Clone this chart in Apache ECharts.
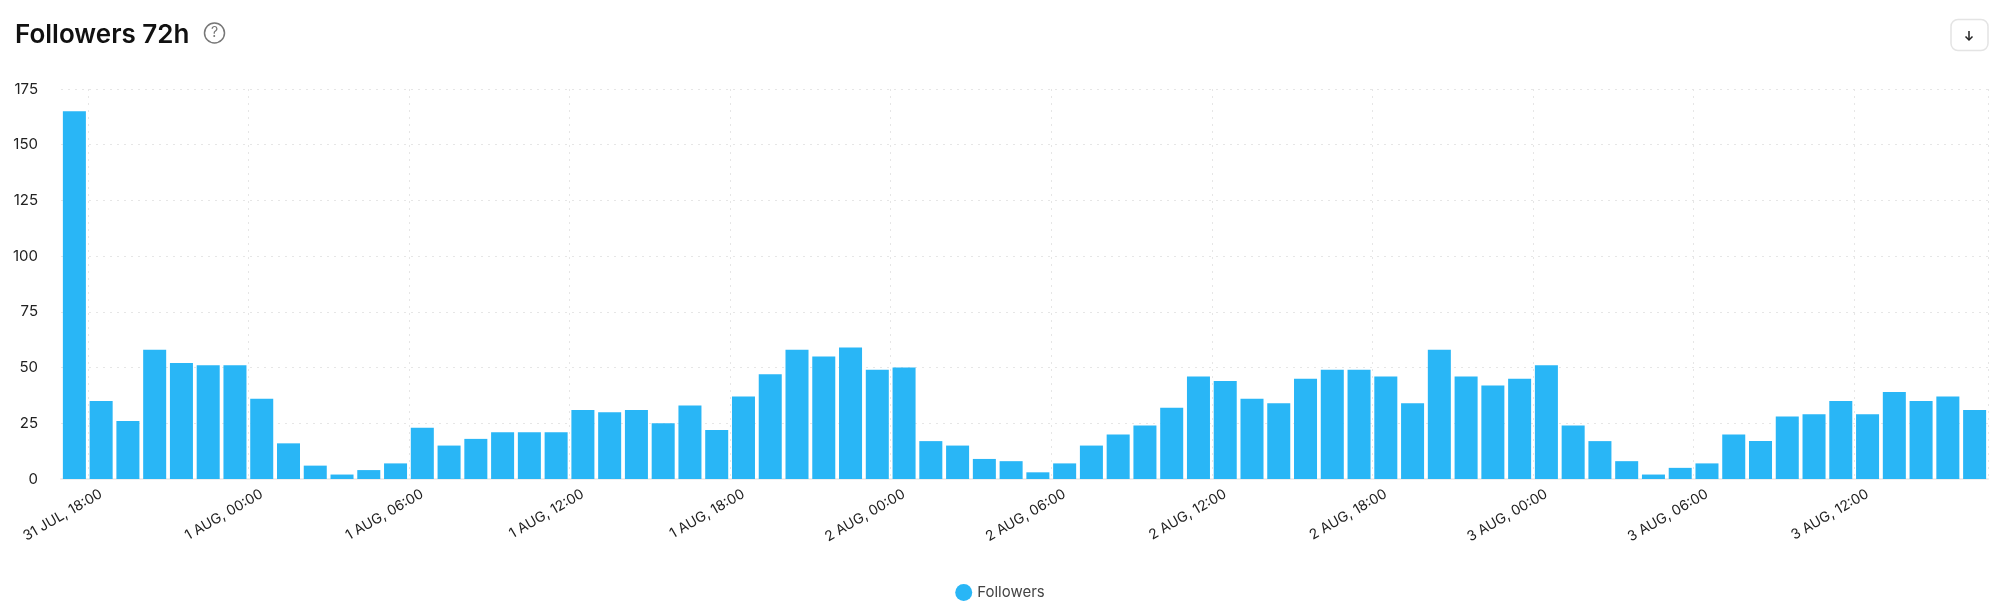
<!DOCTYPE html>
<html>
<head>
<meta charset="utf-8">
<style>
  html, body { margin: 0; padding: 0; background: #fff; }
  #main { width: 2000px; height: 614px; }
</style>
<script src="https://cdn.jsdelivr.net/npm/echarts@6/dist/echarts.min.js"></script>
</head>
<body>
<div id="main"></div>
<script>
var hours = [
  '31 JUL, 17:00', '31 JUL, 18:00', '31 JUL, 19:00', '31 JUL, 20:00', '31 JUL, 21:00', '31 JUL, 22:00', '31 JUL, 23:00',
  '1 AUG, 00:00', '1 AUG, 01:00', '1 AUG, 02:00', '1 AUG, 03:00', '1 AUG, 04:00', '1 AUG, 05:00', '1 AUG, 06:00',
  '1 AUG, 07:00', '1 AUG, 08:00', '1 AUG, 09:00', '1 AUG, 10:00', '1 AUG, 11:00', '1 AUG, 12:00', '1 AUG, 13:00',
  '1 AUG, 14:00', '1 AUG, 15:00', '1 AUG, 16:00', '1 AUG, 17:00', '1 AUG, 18:00', '1 AUG, 19:00', '1 AUG, 20:00',
  '1 AUG, 21:00', '1 AUG, 22:00', '1 AUG, 23:00', '2 AUG, 00:00', '2 AUG, 01:00', '2 AUG, 02:00', '2 AUG, 03:00',
  '2 AUG, 04:00', '2 AUG, 05:00', '2 AUG, 06:00', '2 AUG, 07:00', '2 AUG, 08:00', '2 AUG, 09:00', '2 AUG, 10:00',
  '2 AUG, 11:00', '2 AUG, 12:00', '2 AUG, 13:00', '2 AUG, 14:00', '2 AUG, 15:00', '2 AUG, 16:00', '2 AUG, 17:00',
  '2 AUG, 18:00', '2 AUG, 19:00', '2 AUG, 20:00', '2 AUG, 21:00', '2 AUG, 22:00', '2 AUG, 23:00', '3 AUG, 00:00',
  '3 AUG, 01:00', '3 AUG, 02:00', '3 AUG, 03:00', '3 AUG, 04:00', '3 AUG, 05:00', '3 AUG, 06:00', '3 AUG, 07:00',
  '3 AUG, 08:00', '3 AUG, 09:00', '3 AUG, 10:00', '3 AUG, 11:00', '3 AUG, 12:00', '3 AUG, 13:00', '3 AUG, 14:00',
  '3 AUG, 15:00', '3 AUG, 16:00'
];
var followers = [
  165, 35, 26, 58, 52, 51, 51, 36, 16, 6,
  2, 4, 7, 23, 15, 18, 21, 21, 21, 31,
  30, 31, 25, 33, 22, 37, 47, 58, 55, 59,
  49, 50, 17, 15, 9, 8, 3, 7, 15, 20,
  24, 32, 46, 44, 36, 34, 45, 49, 49, 46,
  34, 58, 46, 42, 45, 51, 24, 17, 8, 2,
  5, 7, 20, 17, 28, 29, 35, 29, 39, 35,
  37, 31
];
var fontName = 'Inter';

function everySixHours(index) {
  return index % 6 === 1;
}

var myChart = echarts.init(document.getElementById('main'));
var option = {
  animation: false,
  textStyle: { fontFamily: fontName },
  title: {
    text: 'Followers 72h',
    left: 10,
    top: 17,
    textStyle: { fontFamily: fontName, fontSize: 26, fontWeight: 600, color: '#111' }
  },
  legend: {
    data: ['Followers'],
    icon: 'circle',
    left: 'center',
    top: 579,
    itemWidth: 17,
    itemHeight: 17,
    itemGap: 8,
    textStyle: { fontFamily: fontName, fontSize: 15, color: '#444' }
  },
  grid: { left: 61, right: 12, top: 89, bottom: 135 },
  xAxis: {
    type: 'category',
    data: hours,
    axisTick: { alignWithLabel: true, interval: everySixHours, length: 6, lineStyle: { color: '#eeeeee', width: 2 } },
    axisLine: { lineStyle: { color: '#eeeeee', width: 2 } },
    axisLabel: { interval: everySixHours, rotate: 30, margin: 14, fontSize: 14, color: '#222', fontFamily: fontName },
    splitLine: { show: true, interval: everySixHours, lineStyle: { color: '#e6e6e6', type: [2, 5], width: 1 } }
  },
  yAxis: {
    type: 'value',
    min: 0,
    max: 175,
    interval: 25,
    axisLine: { show: false },
    axisTick: { show: false },
    axisLabel: { margin: 23, fontSize: 15, color: '#222', fontFamily: fontName },
    splitLine: { lineStyle: { color: '#e6e6e6', type: [2, 5], width: 1 } }
  },
  series: [
    {
      name: 'Followers',
      type: 'bar',
      data: followers,
      barWidth: '86%',
      itemStyle: { color: '#29B6F6' }
    }
  ],
  graphic: [
    { type: 'circle', shape: { cx: 214.5, cy: 33, r: 10 }, style: { fill: '#fff', stroke: '#777', lineWidth: 1.5 } },
    { type: 'text', x: 214.5, y: 33, style: { text: '?', fill: '#777', fontFamily: fontName, fontSize: 14, align: 'center', verticalAlign: 'middle' } },
    { type: 'rect', shape: { x: 1951, y: 19.5, width: 37, height: 31, r: 7 }, style: { fill: '#fff', stroke: '#e4e4e4', lineWidth: 1.5 } },
    { type: 'polyline', shape: { points: [[1969, 31], [1969, 40]] }, style: { fill: 'none', stroke: '#222', lineWidth: 1.5 } },
    { type: 'polyline', shape: { points: [[1965.5, 36.5], [1969, 40], [1972.5, 36.5]] }, style: { fill: 'none', stroke: '#222', lineWidth: 1.5 } }
  ]
};
myChart.setOption(option);
</script>
</body>
</html>
